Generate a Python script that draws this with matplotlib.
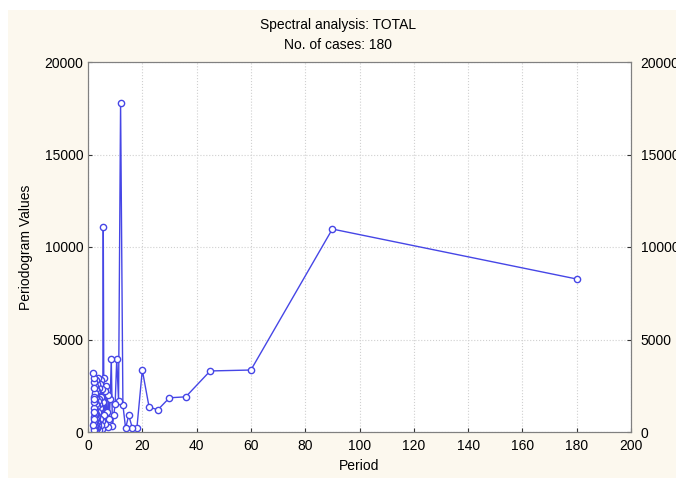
import matplotlib.pyplot as plt
from matplotlib.patches import Rectangle
import numpy as np

plt.rcParams['font.family'] = ['Liberation Sans', 'DejaVu Sans']

# periodogram values for k = 1..90 (period = 180 / k)
n_cases = 180
harmonic = np.arange(1, 91)
period = n_cases / harmonic
values = [8270, 10970, 3350, 3300, 1900, 1850, 1200, 1350, 3350, 200,
          200, 900, 200, 1460, 17800, 1700, 3950, 1500, 900, 300,
          3950, 1800, 700, 2000, 250, 1100, 2500, 450, 2200, 900,
          2900, 11100, 1600, 600, 2300, 150, 1900, 2800, 400, 1300,
          2600, 700, 1800, 100, 1500, 2400, 500, 1100, 2900, 300,
          1700, 800, 2200, 200, 1400, 2600, 600, 1000, 1900, 100,
          2300, 700, 1500, 2800, 400, 1200, 2000, 150, 900, 2500,
          600, 1700, 300, 2100, 1000, 2700, 200, 1300, 800, 1900,
          500, 2400, 100, 1600, 1100, 2900, 700, 1800, 400, 3200]

x_ticks = np.arange(0, 201, 20)
y_ticks = np.arange(0, 20001, 5000)

cream = '#fcf8ee'
blue = '#4646e6'

fig = plt.figure(figsize=(6.76, 4.78), dpi=100, facecolor='white')
fig.patches.append(Rectangle((8 / 676, 0), 1, 1 - 10 / 478, transform=fig.transFigure,
                             facecolor=cream, edgecolor='none', zorder=-1))

ax = fig.add_axes([88 / 676, 46 / 478, 543 / 676, 370 / 478])
ax.plot(period, values, color=blue, lw=1, marker='o', ms=4.5,
        mfc='white', mec=blue, mew=1)

ax.set_xlim(0, 200)
ax.set_ylim(0, 20000)
ax.set_xticks(x_ticks)
ax.set_yticks(y_ticks)
ax.grid(True, color='#d0d0d0', ls=':', lw=0.8)
ax.set_axisbelow(True)
ax.tick_params(direction='in', length=3, labelsize=10, color='#333333')
ax.tick_params(axis='x', pad=5)
for s in ax.spines.values():
    s.set_color('#808080')

ax2 = ax.twinx()
ax2.set_ylim(0, 20000)
ax2.set_yticks(y_ticks)
ax2.tick_params(direction='in', length=3, labelsize=10, color='#333333', pad=7)
for s in ax2.spines.values():
    s.set_color('#808080')

ax.set_xlabel('Period', fontsize=10)
ax.set_ylabel('Periodogram Values', fontsize=10, labelpad=8)
fig.text(0.5, 1 - 25 / 478, 'Spectral analysis: TOTAL', ha='center', va='center', fontsize=10)
fig.text(0.5, 1 - 45 / 478, 'No. of cases: 180', ha='center', va='center', fontsize=10)

fig.savefig('out.png', dpi=100, facecolor=fig.get_facecolor())
